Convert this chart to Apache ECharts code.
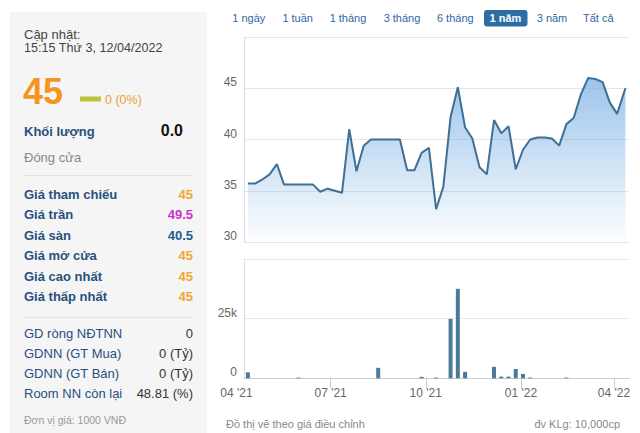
<!DOCTYPE html>
<html><head><meta charset="utf-8">
<script src="https://cdn.jsdelivr.net/npm/echarts@6/dist/echarts.min.js"></script>
<style>html,body{margin:0;padding:0;background:#fff}#c{width:640px;height:433px}</style>
</head><body><div id="c"></div>
<script>
// ---------- DATA ----------
const priceDates = ['2021-04-12','2021-04-19','2021-04-26','2021-05-03','2021-05-10','2021-05-17','2021-05-24','2021-05-31','2021-06-07','2021-06-14','2021-06-21','2021-06-28','2021-07-05','2021-07-12','2021-07-19','2021-07-26','2021-08-02','2021-08-09','2021-08-16','2021-08-23','2021-08-30','2021-09-06','2021-09-13','2021-09-20','2021-09-27','2021-10-04','2021-10-11','2021-10-18','2021-10-25','2021-11-01','2021-11-08','2021-11-15','2021-11-22','2021-11-29','2021-12-06','2021-12-13','2021-12-20','2021-12-27','2022-01-03','2022-01-10','2022-01-17','2022-01-24','2022-01-31','2022-02-07','2022-02-14','2022-02-21','2022-02-28','2022-03-07','2022-03-14','2022-03-21','2022-03-28','2022-04-04','2022-04-12'];
const prices = [35.7,35.7,36.1,36.6,37.6,35.6,35.6,35.6,35.6,35.6,34.9,35.2,35.0,34.8,41.0,36.9,39.4,40.0,40.0,40.0,40.0,40.0,37.0,37.0,38.7,39.2,33.2,35.4,42.2,45.1,41.2,40.1,37.3,36.6,41.9,40.6,41.3,37.1,39.0,40.0,40.2,40.2,40.1,39.4,41.5,42.1,44.4,46.0,45.9,45.6,43.6,42.5,45.0];
const volDates = ['2021-04-12','2021-05-31','2021-08-16','2021-09-27','2021-10-11','2021-10-25','2021-11-01','2021-11-08','2021-12-06','2021-12-13','2021-12-20','2021-12-27','2022-01-03','2022-01-10','2022-02-14'];
const volumes = [2500,300,4400,600,300,24900,37500,2700,4800,700,700,3900,1800,300,300];
const xTickDates = ['2021-04-01','2021-07-01','2021-10-01','2022-01-01','2022-04-01'];
const xTickLabels = ["04 '21","07 '21","10 '21","01 '22","04 '22"];
const rangeButtons = ['1 ngày','1 tuần','1 tháng','3 tháng','6 tháng','1 năm','3 năm','Tất cả'];
const selectedRange = '1 năm';
const updateLabel = 'Cập nhật:';
const updateTime = '15:15 Thứ 3, 12/04/2022';
const lastPrice = '45';
const priceChange = '0 (0%)';
const volLabel = 'Khối lượng';
const volValue = '0.0';
const closeLabel = 'Đóng cửa';
const priceLabels = ['Giá tham chiếu','Giá trần','Giá sàn','Giá mở cửa','Giá cao nhất','Giá thấp nhất'];
const priceValues = ['45','49.5','40.5','45','45','45'];
const foreignLabels = ['GD ròng NĐTNN','GDNN (GT Mua)','GDNN (GT Bán)','Room NN còn lại'];
const foreignValues = ['0','0 (Tỷ)','0 (Tỷ)','48.81 (%)'];
const unitNote = 'Đơn vị giá: 1000 VNĐ';
const chartNote = 'Đồ thị vẽ theo giá điều chỉnh';
const volUnitNote = 'đv KLg: 10,000cp';

// ---------- BUILD ----------
const FF = "Arial, 'Liberation Sans', sans-serif";
const base = Date.parse(xTickDates[0]);
const dayOf = d => Math.round((Date.parse(d) - base) / 86400000);
const tickDays = xTickDates.map(dayOf);
const priceData = priceDates.map((d, i) => [dayOf(d), prices[i]]);
const volData = volDates.map((d, i) => [dayOf(d), volumes[i]]);
const X_MIN = 7.25, X_MAX = 379.5;

const valueColors = ['#f0a632', '#cc2fcc', '#1f5b8c', '#f0a632', '#f0a632', '#f0a632'];
const labelColor = '#28507e';

const g = [];
g.push({type: 'rect', shape: {x: 10, y: 12, width: 197, height: 430}, style: {fill: '#f5f5f5'}, z: 0});
const txt = (text, x, y, font, fill, align) => g.push({type: 'text', z: 10, style: {text, x, y, font, fill, textAlign: align || 'left', textVerticalAlign: 'middle'}});
txt(updateLabel, 24, 34, '13px ' + FF, '#444');
txt(updateTime, 24, 48, '12.6px ' + FF, '#444');
txt(lastPrice, 23, 91, 'bold 36px ' + FF, '#f7941e');
g.push({type: 'rect', z: 10, shape: {x: 80, y: 96.5, width: 21, height: 5}, style: {fill: '#b9c43a'}});
txt(priceChange, 105, 99.5, '12.5px ' + FF, '#f0a030');
txt(volLabel, 24, 131.5, 'bold 13px ' + FF, labelColor);
txt(volValue, 183, 130, 'bold 16px ' + FF, '#111', 'right');
txt(closeLabel, 24, 157, '13px ' + FF, '#888');
g.push({type: 'line', z: 10, shape: {x1: 24, y1: 175.5, x2: 193, y2: 175.5}, style: {stroke: '#e3e3e3', lineWidth: 1}});
priceLabels.forEach((l, i) => {
  const y = 194.5 + i * 20.45;
  txt(l, 24, y, 'bold 13px ' + FF, labelColor);
  txt(priceValues[i], 193, y, 'bold 13px ' + FF, valueColors[i], 'right');
});
g.push({type: 'line', z: 10, shape: {x1: 24, y1: 317.5, x2: 193, y2: 317.5}, style: {stroke: '#e3e3e3', lineWidth: 1}});
foreignLabels.forEach((l, i) => {
  const y = 333 + i * 20.2;
  txt(l, 24, y, '13px ' + FF, labelColor);
  txt(foreignValues[i], 193, y, '13px ' + FF, '#333', 'right');
});
txt(unitNote, 24, 420, '10.5px ' + FF, '#999');

// range buttons
const btnCenters = [248.8, 297.7, 348, 402, 455.3, 505.5, 552, 598.3];
rangeButtons.forEach((b, i) => {
  const sel = b === selectedRange;
  if (sel) g.push({type: 'rect', z: 5, shape: {x: 484, y: 10, width: 43.5, height: 16.5, r: 3}, style: {fill: '#2e6ca5'}});
  txt(b, btnCenters[i], 18, (sel ? 'bold ' : '') + '11px ' + FF, sel ? '#fff' : '#31679f', 'center');
});
txt(chartNote, 226, 424, '11px ' + FF, '#888');
txt(volUnitNote, 620, 424, '11px ' + FF, '#888', 'right');

const chart = echarts.init(document.getElementById('c'), null, {renderer: 'svg'});
chart.setOption({
  animation: false,
  grid: [
    {left: 244, right: 11, top: 37, height: 205},
    {left: 244, right: 11, top: 259, height: 119.3},
    {left: 236.5, right: 11, top: 259, height: 119.3}
  ],
  xAxis: [
    {type: 'value', gridIndex: 0, min: X_MIN, max: X_MAX, axisLine: {show: true, lineStyle: {color: '#e6e6e6'}}, axisTick: {show: false}, axisLabel: {show: false}, splitLine: {show: false}},
    {type: 'value', gridIndex: 1, min: X_MIN, max: X_MAX, axisLine: {show: true, onZero: false, lineStyle: {color: '#cccccc'}},
      axisTick: {show: true, length: 10, lineStyle: {color: '#cccccc'}, customValues: tickDays.slice(1)}, axisLabel: {show: false}, splitLine: {show: false}},
    {type: 'value', gridIndex: 2, min: 0, max: X_MAX, axisLine: {show: false}, axisTick: {show: false}, splitLine: {show: false},
      axisLabel: {show: true, customValues: tickDays, margin: 9, color: '#666', fontSize: 12, fontFamily: FF,
        formatter: v => { const i = tickDays.findIndex(d => Math.abs(d - v) < 0.01); return i >= 0 ? xTickLabels[i] : ''; }}}
  ],
  yAxis: [
    {type: 'value', gridIndex: 0, min: 30, max: 50, interval: 5, axisLine: {show: true, lineStyle: {color: '#dddddd'}}, axisTick: {show: false},
      axisLabel: {showMaxLabel: false, margin: 7, color: '#666', fontSize: 12, fontFamily: FF, verticalAlign: 'bottom'},
      splitLine: {show: true, lineStyle: {color: '#e6e6e6'}}},
    {type: 'value', gridIndex: 1, min: 0, max: 50000, interval: 25000, axisLine: {show: true, lineStyle: {color: '#dddddd'}}, axisTick: {show: false},
      axisLabel: {showMaxLabel: false, margin: 7, color: '#666', fontSize: 12, fontFamily: FF, verticalAlign: 'bottom', formatter: v => v === 0 ? '0' : (v / 1000) + 'k'},
      splitLine: {show: true, lineStyle: {color: '#e6e6e6'}}},
    {type: 'value', gridIndex: 2, min: 0, max: 1, show: false}
  ],
  series: [
    {type: 'line', xAxisIndex: 0, yAxisIndex: 0, data: priceData, symbol: 'none', smooth: false,
      lineStyle: {color: '#3f6f93', width: 2},
      areaStyle: {origin: 'start', color: {type: 'linear', x: 0, y: 0, x2: 0, y2: 1, colorStops: [{offset: 0, color: 'rgba(108,166,226,0.95)'}, {offset: 1, color: 'rgba(108,166,226,0.02)'}]}}},
    {type: 'bar', xAxisIndex: 1, yAxisIndex: 1, data: volData, barWidth: 4, itemStyle: {color: '#4a7b97'}}
  ],
  graphic: g
});
</script></body></html>
